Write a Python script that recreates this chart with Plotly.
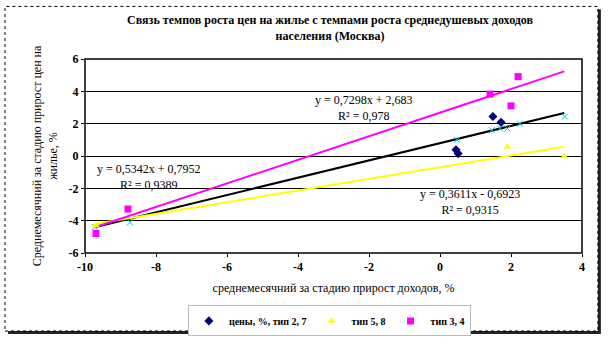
import plotly.graph_objects as go

# ---- data ----
diam_x = [1.49, 1.72, 0.45, 0.51]
diam_y = [2.44, 2.08, 0.39, 0.15]
cross_x = [-9.72, -8.73, 0.48, 1.46, 1.69, 1.9, 2.25, 3.52]
cross_y = [-4.4, -4.1, 1.0, 1.6, 1.7, 1.7, 2.0, 2.44]
tri_x = [-9.7, 1.9, 3.5]
tri_y = [-4.3, 0.57, -0.03]
sq_x = [-9.69, -8.79, 1.41, 2.2, 2.0]
sq_y = [-4.79, -3.28, 3.83, 4.91, 3.10]

# trendline coefficients (slope, intercept) and x range
trend_black = (0.5342, 0.7952)
trend_yellow = (0.3611, -0.6923)
trend_magenta = (0.7298, 2.683)
trend_x = [-9.7, 3.5]

legend_names = ["цены, %, тип 2, 7", "тип 5, 8", "тип 3, 4"]
x_ticks = [-10, -8, -6, -4, -2, 0, 2, 4]
x_tick_labels = ["-10", "-8", "-6", "-4", "-2", "0", "2", "4"]
y_ticks = [-6, -4, -2, 0, 2, 4, 6]
y_tick_labels = ["-6", "-4", "-2", "0", "2", "4", "6"]

FONT = "Liberation Serif"

fig = go.Figure()

def tl(c):
    return [c[0] * x + c[1] for x in trend_x]

fig.add_trace(go.Scatter(x=trend_x, y=tl(trend_black), mode="lines",
                         line=dict(color="black", width=2), showlegend=False))
fig.add_trace(go.Scatter(x=trend_x, y=tl(trend_yellow), mode="lines",
                         line=dict(color="#ffff00", width=2), showlegend=False))
fig.add_trace(go.Scatter(x=trend_x, y=tl(trend_magenta), mode="lines",
                         line=dict(color="#ff00ff", width=2), showlegend=False))

fig.add_trace(go.Scatter(x=cross_x, y=cross_y, mode="markers",
                         marker=dict(symbol="x-thin-open", size=6, color="#00cccc",
                                     line=dict(width=1, color="#00cccc")),
                         showlegend=False))
fig.add_trace(go.Scatter(x=diam_x, y=diam_y, mode="markers", name=legend_names[0],
                         marker=dict(symbol="diamond", size=7, color="#000080")))
fig.add_trace(go.Scatter(x=tri_x, y=tri_y, mode="markers", name=legend_names[1],
                         marker=dict(symbol="triangle-up", size=7, color="#ffff00")))
fig.add_trace(go.Scatter(x=sq_x, y=sq_y, mode="markers", name=legend_names[2],
                         marker=dict(symbol="square", size=7, color="#ff00ff")))

ann_font = dict(family=FONT, size=12, color="black")
annotations = [
    dict(x=-2.14, y=2.98, xref="x", yref="y", text="y = 0,7298x + 2,683<br>R² = 0,978",
         showarrow=False, font=ann_font, align="center"),
    dict(x=-8.2, y=-1.3, xref="x", yref="y", text="y = 0,5342x + 0,7952<br>R² = 0,9389",
         showarrow=False, font=ann_font, align="center"),
    dict(x=0.85, y=-2.86, xref="x", yref="y", text="y = 0,3611x - 0,6923<br>R² = 0,9315",
         showarrow=False, font=ann_font, align="center"),
]

shapes = [
    # shadow
    dict(type="rect", xref="paper", yref="paper", x0=-0.155, x1=1.038, y0=-0.417, y1=1.256,
         fillcolor="#222222", line=dict(width=0), layer="below"),
    # frame
    dict(type="rect", xref="paper", yref="paper", x0=-0.161, x1=1.032, y0=-0.402, y1=1.271,
         fillcolor="white", line=dict(color="black", width=1, dash="dot"), layer="below"),
    # plot border
    dict(type="rect", xref="paper", yref="paper", x0=0, x1=1, y0=0, y1=1,
         line=dict(color="black", width=1.5)),
]

fig.update_layout(
    width=609, height=348,
    margin=dict(l=85, r=27, t=59, b=90),
    paper_bgcolor="white", plot_bgcolor="rgba(0,0,0,0)",
    font=dict(family=FONT, color="black"),
    title=dict(text="<b>Связь темпов роста цен на жилье с темпами роста среднедушевых доходов<br>населения (Москва)</b>",
               x=0.542, xanchor="center", y=0.93, yanchor="middle",
               font=dict(family=FONT, size=12, color="black")),
    xaxis=dict(range=[-10, 4], tickvals=x_ticks, ticktext=x_tick_labels, showgrid=False, zeroline=False,
               ticks="outside", ticklen=3, tickcolor="black",
               tickfont=dict(family=FONT, size=12, color="black", weight="bold"),
               title=dict(text="среднемесячний за стадию прирост доходов, %",
                          font=dict(family=FONT, size=12, color="black"), standoff=10)),
    yaxis=dict(range=[-6, 6], tickvals=y_ticks, ticktext=y_tick_labels, showgrid=True,
               gridcolor="black", gridwidth=1,
               zeroline=False, ticks="outside", ticklen=3, tickcolor="black",
               tickfont=dict(family=FONT, size=12, color="black", weight="bold"),
               title=dict(text="Среднемесячний за стадию прирост цен на<br>жилье, %",
                          font=dict(family=FONT, size=12, color="black"), standoff=8)),
    legend=dict(orientation="h", x=0.207, y=-0.27, xanchor="left", yanchor="top",
                bgcolor="white", bordercolor="#bbbbbb", borderwidth=1,
                font=dict(family=FONT, size=10, color="black", weight="bold"),
                itemwidth=30, tracegroupgap=0),
    annotations=annotations, shapes=shapes,
)

fig.write_html("out.html")
